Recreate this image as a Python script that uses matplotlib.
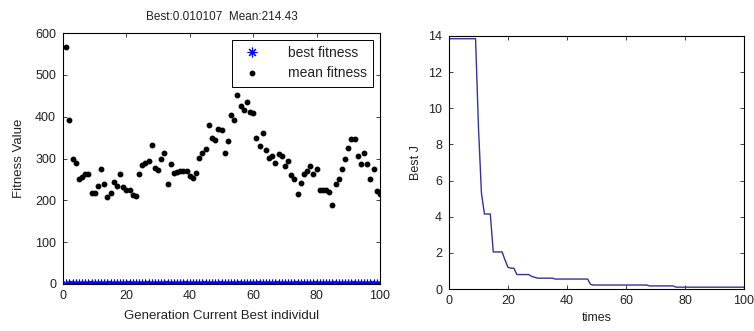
import matplotlib
matplotlib.use("Agg")
import matplotlib.pyplot as plt

plt.rcParams['font.family'] = ['Liberation Sans', 'DejaVu Sans']

generations = list(range(1, 101))
mean_fitness = [566, 391, 300, 290, 252, 256, 262, 264, 218, 218,
                235, 276, 240, 209, 218, 245, 235, 264, 233, 225,
                225, 213, 211, 264, 285, 290, 293, 333, 278, 273,
                300, 312, 240, 288, 266, 268, 270, 271, 270, 259,
                254, 265, 302, 312, 322, 379, 350, 345, 370, 367,
                312, 343, 403, 391, 451, 425, 415, 434, 410, 408,
                350, 330, 360, 320, 302, 307, 290, 310, 305, 283,
                293, 260, 250, 216, 241, 262, 271, 283, 264, 276,
                225, 225, 225, 221, 190, 240, 252, 276, 300, 324,
                346, 346, 307, 288, 312, 288, 252, 276, 223, 214.43]
best_fitness = [0.95, 0.95, 0.95, 0.95, 0.95, 0.95, 0.95, 0.95, 0.62, 0.41,
                0.41, 0.30, 0.30, 0.21, 0.21, 0.21, 0.15, 0.15, 0.12, 0.12,
                0.12, 0.09, 0.09, 0.09, 0.07, 0.07, 0.07, 0.06, 0.06, 0.06,
                0.05, 0.05, 0.05, 0.05, 0.04, 0.04, 0.04, 0.04, 0.04, 0.04,
                0.03, 0.03, 0.03, 0.03, 0.03, 0.03, 0.03, 0.02, 0.02, 0.02,
                0.02, 0.02, 0.02, 0.02, 0.02, 0.02, 0.02, 0.02, 0.02, 0.02,
                0.015, 0.015, 0.015, 0.015, 0.015, 0.015, 0.015, 0.015, 0.015, 0.015,
                0.012, 0.012, 0.012, 0.012, 0.012, 0.012, 0.012, 0.012, 0.012, 0.012,
                0.011, 0.011, 0.011, 0.011, 0.011, 0.011, 0.011, 0.011, 0.011, 0.011,
                0.0101, 0.0101, 0.0101, 0.0101, 0.0101, 0.0101, 0.0101, 0.0101, 0.0101, 0.010107]

times = list(range(0, 101))
best_j = [13.85, 13.85, 13.85, 13.85, 13.85, 13.85, 13.85, 13.85, 13.85, 13.85,
          8.9, 5.3, 4.15, 4.15, 4.15, 2.05, 2.05, 2.05, 2.05, 1.6,
          1.2, 1.15, 1.15, 0.8, 0.8, 0.8, 0.8, 0.8, 0.7, 0.65,
          0.6, 0.6, 0.6, 0.6, 0.6, 0.6, 0.55, 0.55, 0.55, 0.55,
          0.55, 0.55, 0.55, 0.55, 0.55, 0.55, 0.55, 0.55, 0.25, 0.22,
          0.22, 0.22, 0.22, 0.22, 0.22, 0.22, 0.22, 0.22, 0.22, 0.22,
          0.22, 0.22, 0.22, 0.22, 0.22, 0.22, 0.22, 0.22, 0.17, 0.17,
          0.17, 0.17, 0.17, 0.17, 0.17, 0.17, 0.17, 0.1, 0.1, 0.1,
          0.1, 0.1, 0.1, 0.1, 0.1, 0.1, 0.1, 0.1, 0.1, 0.1,
          0.1, 0.1, 0.1, 0.1, 0.1, 0.1, 0.1, 0.1, 0.1, 0.1, 0.1]

title_text = "Best:0.010107  Mean:214.43"

fig = plt.figure(figsize=(7.54, 3.31), dpi=100)
ax1 = fig.add_axes([63/754, 47/331, 317/754, 251/331])
ax2 = fig.add_axes([449/754, 42/331, 295/754, 253/331])

fs = 9
for ax in (ax1, ax2):
    ax.tick_params(direction='in', top=True, right=True, labelsize=fs, length=3,
                   width=0.6, pad=4, colors='#222222', labelcolor='#222222')
    ax.tick_params(axis='y', pad=5)
    for s in ax.spines.values():
        s.set_linewidth(0.8)

asterisk = (8, 2, 0)
ax1.plot(generations, best_fitness, linestyle='none', marker=asterisk, color='#0000ff',
         markersize=7, markeredgewidth=0.8, label='best fitness')
ax1.plot(generations, mean_fitness, linestyle='none', marker='o', color='black',
         markersize=3.2, label='mean fitness')
ax1.set_xlim(0, 100)
ax1.set_ylim(0, 600)
ax1.set_xticks([0, 20, 40, 60, 80, 100])
ax1.set_yticks([0, 100, 200, 300, 400, 500, 600])
ax1.set_xlabel("Generation Current Best individul", fontsize=9.5, labelpad=6, color='#222222')
ax1.set_ylabel("Fitness Value", fontsize=9.5, labelpad=7, color='#222222')
ax1.set_title(title_text, fontsize=8.5, pad=9, color='#222222')
leg = ax1.legend(loc='upper right', fontsize=10, frameon=True, fancybox=False,
                 edgecolor='black', framealpha=1, borderaxespad=0.5,
                 handletextpad=1.6, handlelength=2.0, borderpad=0.45,
                 labelspacing=0.45)
leg.get_frame().set_linewidth(0.7)
for t in leg.get_texts():
    t.set_color('#222222')

ax2.plot(times, best_j, color='#333399', linewidth=1.0)
ax2.set_xlim(0, 100)
ax2.set_ylim(0, 14)
ax2.set_xticks([0, 20, 40, 60, 80, 100])
ax2.set_yticks([0, 2, 4, 6, 8, 10, 12, 14])
ax2.set_xlabel("times", fontsize=9, labelpad=4, color='#222222')
ax2.set_ylabel("Best J", fontsize=9, labelpad=4, color='#222222')

fig.savefig("out.png", dpi=100)
